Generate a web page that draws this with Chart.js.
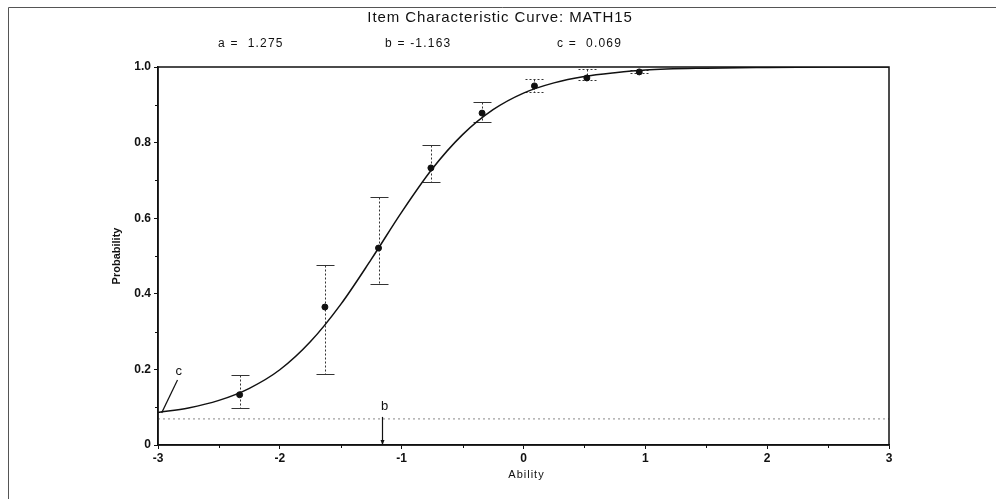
<!DOCTYPE html>
<html>
<head>
<meta charset="utf-8">
<script src="https://cdn.jsdelivr.net/npm/chart.js@4"></script>
<style>
  html, body { margin: 0; padding: 0; background: #fff; }
  canvas { display: block; }
</style>
</head>
<body>
<canvas id="icc" width="996" height="499"></canvas>
<script>
// item parameters
const paramNames = ['a', 'b', 'c'];
const paramValues = [1.275, -1.163, 0.069];

// observed proportions with their error bars
const thetaPoints = [-2.33, -1.63, -1.19, -0.76, -0.34, 0.09, 0.52, 0.95];
const observedP = [0.133, 0.365, 0.521, 0.733, 0.878, 0.950, 0.971, 0.987];
const errUpper = [0.185, 0.476, 0.656, 0.794, 0.907, 0.968, 0.995, 0.992];
const errLower = [0.097, 0.188, 0.426, 0.696, 0.854, 0.934, 0.966, 0.983];

// fitted curve
const curveX = [-3, -2.75, -2.5, -2.25, -2, -1.75, -1.5, -1.25, -1, -0.75, -0.5, -0.25, 0, 0.25, 0.5, 0.75, 1, 1.5, 2, 2.5, 3];
const curveP = [0.086, 0.098, 0.118, 0.150, 0.199, 0.273, 0.372, 0.491, 0.616, 0.730, 0.821, 0.887, 0.931, 0.958, 0.975, 0.985, 0.992, 0.997, 0.999, 1.0, 1.0];

const chartTitle = 'Item Characteristic Curve: MATH15';
const FONT = '"Liberation Sans", Arial, sans-serif';
const INK = '#111';

const cParam = paramValues[2];
const bParam = paramValues[1];

const decor = {
    id: 'decor',
    beforeDatasetsDraw(chart) {
        const { ctx, scales: { x, y } } = chart;
        ctx.save();
        ctx.strokeStyle = '#333';
        ctx.lineWidth = 1;
        thetaPoints.forEach((t, i) => {
            const px = Math.round(x.getPixelForValue(t)) + 0.5;
            const top = Math.round(y.getPixelForValue(errUpper[i])) + 0.5;
            const bot = Math.round(y.getPixelForValue(errLower[i])) + 0.5;
            ctx.setLineDash([2, 2]);
            ctx.beginPath();
            ctx.moveTo(px, top);
            ctx.lineTo(px, bot);
            ctx.stroke();
            ctx.setLineDash(i > 4 ? [2, 2] : []);
            [top, bot].forEach(py => {
                ctx.beginPath();
                ctx.moveTo(px - 9, py);
                ctx.lineTo(px + 9, py);
                ctx.stroke();
            });
        });
        ctx.restore();
    },
    afterDraw(chart) {
        const { ctx, chartArea: a, scales: { x, y } } = chart;
        ctx.save();

        // outer frame (top and left edges only)
        ctx.strokeStyle = '#555';
        ctx.lineWidth = 1;
        ctx.beginPath();
        ctx.moveTo(996, 7.5);
        ctx.lineTo(8.5, 7.5);
        ctx.lineTo(8.5, 499);
        ctx.stroke();

        // plot box
        ctx.strokeStyle = INK;
        ctx.lineWidth = 1.5;
        ctx.strokeRect(a.left, a.top, a.right - a.left, a.bottom - a.top);

        // minor ticks
        ctx.lineWidth = 1;
        for (let v = 0.1; v < 1; v += 0.2) {
            const py = Math.round(y.getPixelForValue(v)) + 0.5;
            ctx.beginPath();
            ctx.moveTo(a.left - 3, py);
            ctx.lineTo(a.left, py);
            ctx.stroke();
        }
        for (let v = -2.5; v < 3; v += 1) {
            const px = Math.round(x.getPixelForValue(v)) + 0.5;
            ctx.beginPath();
            ctx.moveTo(px, a.bottom);
            ctx.lineTo(px, a.bottom + 3);
            ctx.stroke();
        }

        // title and parameter line
        ctx.fillStyle = INK;
        ctx.textBaseline = 'middle';
        ctx.textAlign = 'center';
        ctx.font = '15px ' + FONT;
        ctx.letterSpacing = '0.9px';
        ctx.fillText(chartTitle, 500, 18);
        ctx.textAlign = 'left';
        ctx.font = '12px ' + FONT;
        ctx.letterSpacing = '1.2px';
        const paramX = [218, 385, 557];
        paramNames.forEach((n, i) => {
            const v = paramValues[i];
            const s = n + ' = ' + (v < 0 ? '' : ' ') + v.toFixed(3);
            ctx.fillText(s, paramX[i], 44);
        });
        ctx.letterSpacing = '0px';

        // b marker: arrow from the c line down to the axis
        ctx.font = '13px ' + FONT;
        ctx.textAlign = 'center';
        const bx = Math.round(x.getPixelForValue(bParam)) + 0.5;
        const by0 = y.getPixelForValue(cParam) - 2;
        ctx.fillText('b', bx + 2, y.getPixelForValue(cParam) - 12);
        ctx.lineWidth = 1.2;
        ctx.beginPath();
        ctx.moveTo(bx, by0);
        ctx.lineTo(bx, a.bottom);
        ctx.stroke();
        ctx.beginPath();
        ctx.moveTo(bx - 2, a.bottom - 5);
        ctx.lineTo(bx, a.bottom);
        ctx.lineTo(bx + 2, a.bottom - 5);
        ctx.fill();

        // c marker: pointer to the lower asymptote at theta = -3
        const cx0 = x.getPixelForValue(-2.84), cy0 = y.getPixelForValue(0.172);
        const cx1 = x.getPixelForValue(-2.97), cy1 = y.getPixelForValue(0.085);
        ctx.fillText('c', x.getPixelForValue(-2.83), y.getPixelForValue(0.195));
        ctx.beginPath();
        ctx.moveTo(cx0, cy0);
        ctx.lineTo(cx1, cy1);
        ctx.stroke();

        // axis title with the wide spacing of the scan
        ctx.font = '11px ' + FONT;
        ctx.letterSpacing = '1px';
        ctx.fillText('Ability', (a.left + a.right) / 2 + 3, 475);
        ctx.restore();
    }
};

new Chart(document.getElementById('icc'), {
    type: 'scatter',
    data: {
        datasets: [
            {
                type: 'line',
                data: curveX.map((v, i) => ({ x: v, y: curveP[i] })),
                borderColor: INK,
                borderWidth: 1.5,
                pointRadius: 0,
                cubicInterpolationMode: 'monotone',
                fill: false
            },
            {
                type: 'line',
                data: [{ x: -3, y: cParam }, { x: 3, y: cParam }],
                borderColor: '#888',
                borderWidth: 1,
                borderDash: [2, 3],
                pointRadius: 0,
                fill: false
            },
            {
                data: thetaPoints.map((v, i) => ({ x: v, y: observedP[i] })),
                backgroundColor: INK,
                borderColor: INK,
                pointRadius: 3
            }
        ]
    },
    options: {
        responsive: false,
        animation: false,
        layout: { padding: { left: 106, top: 67, right: 107, bottom: 18 } },
        plugins: { legend: { display: false }, tooltip: { enabled: false } },
        scales: {
            x: {
                type: 'linear',
                min: -3,
                max: 3,
                ticks: {
                    stepSize: 1,
                    padding: 2,
                    color: INK,
                    font: { family: FONT, size: 12, weight: 'bold' }
                },
                grid: { drawOnChartArea: false, tickLength: 4, color: INK },
                border: { color: INK, width: 1.5 },
                afterFit(s) { s.height = 36; }
            },
            y: {
                min: 0,
                max: 1,
                ticks: {
                    stepSize: 0.2,
                    padding: 3,
                    color: INK,
                    font: { family: FONT, size: 12, weight: 'bold' },
                    callback: v => (v === 0 ? '0' : v.toFixed(1))
                },
                grid: { drawOnChartArea: false, tickLength: 4, color: INK },
                border: { color: INK, width: 1.5 },
                title: {
                    display: true,
                    text: 'Probability',
                    color: INK,
                    padding: { top: 4, bottom: 0 },
                    font: { family: FONT, size: 11, weight: 'bold' }
                },
                afterFit(s) { s.width = 52; }
            }
        }
    },
    plugins: [decor]
});
</script>
</body>
</html>
